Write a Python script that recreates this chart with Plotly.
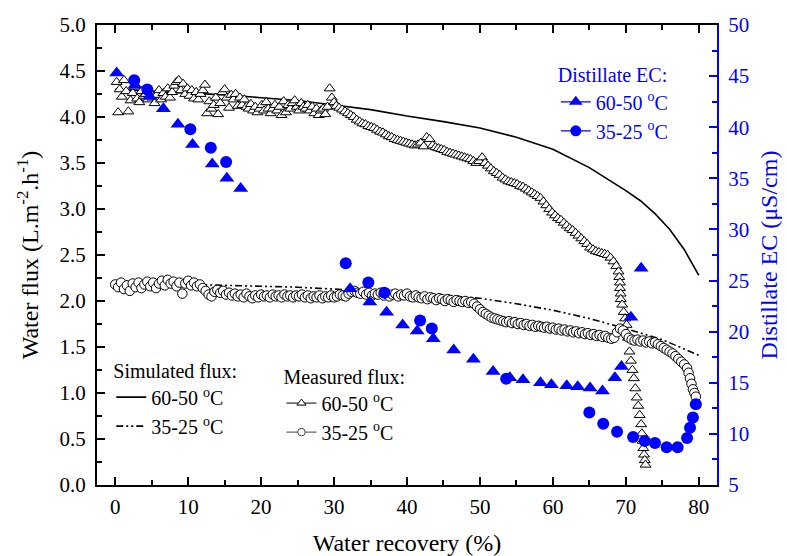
import plotly.graph_objects as go

# ---------------- data ----------------
# Simulated flux (L m-2 h-1)
sim_x = [0, 5, 10, 15, 20, 25, 30, 35, 40, 45, 50, 55, 60, 65, 70, 72, 74, 76, 78, 80]
sim_6050 = [4.30, 4.28, 4.26, 4.24, 4.21, 4.18, 4.13, 4.08, 4.01, 3.95, 3.88, 3.78, 3.65, 3.45, 3.20, 3.09, 2.95, 2.78, 2.56, 2.28]
simb_x = [0, 5, 10, 15, 20, 25, 30, 35, 40, 45, 50, 55, 60, 65, 70, 75, 80]
sim_3525 = [2.22, 2.20, 2.18, 2.17, 2.16, 2.15, 2.13, 2.11, 2.08, 2.06, 2.03, 1.97, 1.90, 1.81, 1.70, 1.58, 1.41]

# Measured flux 60-50 C
meas_6050_x = [0.2, 0.4, 0.6, 0.9, 1.2, 1.5, 1.8, 2.1, 2.4, 2.7, 3.0, 3.3, 3.6, 3.9, 4.2, 4.5, 4.8, 5.1, 5.4, 5.7,
               6.0, 6.3, 6.6, 6.9, 7.2, 7.5, 7.8, 8.1, 8.4, 8.7, 9.0, 9.3, 9.6, 9.9, 10.2, 10.5, 10.8, 11.1, 11.4, 11.7,
               12.0, 12.3, 12.6, 12.9, 13.2, 13.5, 13.8, 14.1, 14.4, 14.7, 15.0, 15.3, 15.6, 15.9, 16.2, 16.5, 16.8, 17.1, 17.4, 17.7,
               18.0, 18.3, 18.6, 18.9, 19.2, 19.5, 19.8, 20.1, 20.4, 20.7, 21.0, 21.3, 21.6, 21.9, 22.2, 22.5, 22.8, 23.1, 23.4, 23.7,
               24.0, 24.3, 24.6, 24.9, 25.2, 25.5, 25.8, 26.1, 26.4, 26.7, 27.0, 27.3, 27.6, 27.9, 28.2, 28.5, 28.8, 29.1, 29.4, 29.7,
               30.0, 30.3, 30.7, 31.1, 31.5, 31.9, 32.3, 32.7, 33.1, 33.5, 33.9, 34.3, 34.7, 35.1, 35.5, 35.9, 36.3, 36.7, 37.1, 37.5,
               37.9, 38.3, 38.7, 39.1, 39.5, 39.9, 40.3, 40.7, 41.1, 41.5, 41.9, 42.3, 42.7, 43.1, 43.5, 43.9, 44.3, 44.7, 45.1, 45.5,
               45.9, 46.3, 46.7, 47.1, 47.5, 47.9, 48.3, 48.7, 49.1, 49.5, 49.9, 50.3, 50.7, 51.1, 51.5, 51.9, 52.3, 52.7, 53.1, 53.5,
               53.9, 54.3, 54.7, 55.1, 55.5, 55.9, 56.3, 56.7, 57.1, 57.5, 57.9, 58.3, 58.7, 59.1, 59.5, 59.9, 60.3, 60.7, 61.1, 61.5,
               61.9, 62.3, 62.7, 63.1, 63.5, 63.9, 64.3, 64.7, 65.1, 65.5, 65.9, 66.3, 66.7, 67.1, 67.5, 67.9, 68.3, 68.7,
               69.0, 69.1, 69.2, 69.2, 69.3, 69.3, 69.5, 69.7, 69.9, 70.1, 70.3, 70.5, 70.7, 70.9, 71.1, 71.3, 71.5, 71.7, 71.9, 72.1,
               72.2, 72.3, 72.4, 72.5, 72.6, 72.7]
meas_6050_y = [4.38, 4.05, 4.30, 4.22, 4.40, 4.28, 4.06, 4.18, 4.26, 4.33, 4.20, 4.16, 4.28, 4.23, 4.25, 4.19, 4.27, 4.21, 4.15, 4.24,
               4.29, 4.19, 4.26, 4.22, 4.31, 4.21, 4.27, 4.34, 4.38, 4.40, 4.29, 4.36, 4.25, 4.31, 4.23, 4.29, 4.20, 4.27, 4.19, 4.25,
               4.29, 4.35, 4.04, 4.17, 4.09, 4.13, 4.21, 4.03, 4.15, 4.27, 4.30, 4.21, 4.10, 4.24, 4.19, 4.25, 4.12, 4.21, 4.13, 4.19,
               4.11, 4.09, 4.14, 4.07, 4.11, 4.05, 4.09, 4.13, 4.07, 4.16, 4.09, 4.04, 4.09, 4.13, 4.07, 4.11, 4.02, 4.17, 4.05, 4.13,
               4.09, 4.15, 4.18, 4.11, 4.07, 4.15, 4.11, 4.09, 4.13, 4.07, 4.11, 4.04, 4.09, 4.02, 4.07, 4.09, 4.03, 4.11, 4.31, 4.21,
               4.16, 4.12, 4.10, 4.08, 4.06, 4.04, 4.02, 4.00, 3.97, 3.95, 3.93, 3.92, 3.90, 3.89, 3.88, 3.86, 3.84, 3.83, 3.81, 3.79,
               3.78, 3.76, 3.75, 3.74, 3.73, 3.72, 3.71, 3.70, 3.69, 3.70, 3.72, 3.68, 3.78, 3.76, 3.69, 3.67, 3.66, 3.65, 3.64, 3.62,
               3.61, 3.60, 3.59, 3.58, 3.57, 3.56, 3.55, 3.54, 3.52, 3.50, 3.52, 3.56, 3.50, 3.47, 3.44, 3.41, 3.39, 3.37, 3.34, 3.32,
               3.30, 3.29, 3.28, 3.27, 3.25, 3.24, 3.22, 3.20, 3.18, 3.16, 3.14, 3.12, 3.08, 3.04, 3.00, 2.96, 2.93, 2.90, 2.88, 2.85,
               2.82, 2.79, 2.77, 2.74, 2.71, 2.68, 2.65, 2.62, 2.58, 2.56, 2.54, 2.53, 2.52, 2.51, 2.50, 2.47, 2.43, 2.38,
               2.32, 2.26, 2.20, 2.14, 2.08, 2.02, 1.96, 1.88, 1.81, 1.74, 1.60, 1.45, 1.35, 1.25, 1.16, 1.05, 0.95, 0.86, 0.76, 0.66,
               0.56, 0.48, 0.40, 0.33, 0.27, 0.22]

# Measured flux 35-25 C
meas_3525_x = [0.0, 0.4, 0.8, 1.2, 1.6, 2.0, 2.4, 2.8, 3.2, 3.6, 4.0, 4.4, 4.8, 5.2, 5.6, 6.0, 6.4, 6.8, 7.2, 7.6,
               8.0, 8.4, 8.8, 9.2, 9.6, 10.0, 10.4, 10.8, 11.2, 11.6, 12.0, 12.4, 12.8, 13.2, 13.6, 14.0, 14.4, 14.8, 15.2, 15.6,
               16.0, 16.4, 16.8, 17.2, 17.6, 18.0, 18.4, 18.8, 19.2, 19.6, 20.0, 20.4, 20.8, 21.2, 21.6, 22.0, 22.4, 22.8, 23.2, 23.6,
               24.0, 24.4, 24.8, 25.2, 25.6, 26.0, 26.4, 26.8, 27.2, 27.6, 28.0, 28.4, 28.8, 29.2, 29.6, 30.0, 30.4, 30.8, 31.2, 31.6,
               32.0, 32.4, 32.8, 33.2, 33.6, 34.0, 34.4, 34.8, 35.2, 35.6, 36.0, 36.4, 36.8, 37.2, 37.6, 38.0, 38.4, 38.8, 39.2, 39.6,
               40.0, 40.4, 40.8, 41.2, 41.6, 42.0, 42.4, 42.8, 43.2, 43.6, 44.0, 44.4, 44.8, 45.2, 45.6, 46.0, 46.4, 46.8, 47.2, 47.6,
               48.0, 48.4, 48.8, 49.2, 49.6, 50.0, 50.4, 50.8, 51.2, 51.6, 52.0, 52.4, 52.8, 53.2, 53.6, 54.0, 54.4, 54.8, 55.2, 55.6,
               56.0, 56.4, 56.8, 57.2, 57.6, 58.0, 58.4, 58.8, 59.2, 59.6, 60.0, 60.4, 60.8, 61.2, 61.6, 62.0, 62.4, 62.8, 63.2, 63.6,
               64.0, 64.4, 64.8, 65.2, 65.6, 66.0, 66.4, 66.8, 67.2, 67.6, 68.0, 68.4, 68.8, 69.2, 69.6, 70.0, 70.4, 70.8, 71.2, 71.6,
               72.0, 72.4, 72.8, 73.2, 73.6, 74.0, 74.4, 74.8, 75.2, 75.6, 76.0, 76.4, 76.8, 77.2, 77.6, 78.0, 78.4, 78.6, 78.8, 79.0,
               79.2, 79.4, 79.6]
meas_3525_y = [2.18, 2.15, 2.20, 2.13, 2.17, 2.11, 2.19, 2.15, 2.20, 2.14, 2.18, 2.21, 2.16, 2.20, 2.14, 2.19, 2.22, 2.17, 2.23, 2.19,
               2.21, 2.16, 2.20, 2.08, 2.19, 2.22, 2.17, 2.20, 2.16, 2.18, 2.14, 2.11, 2.07, 2.05, 2.10, 2.12, 2.09, 2.11, 2.07, 2.09,
               2.06, 2.08, 2.05, 2.07, 2.04, 2.08, 2.05, 2.03, 2.06, 2.04, 2.07, 2.05, 2.06, 2.04, 2.07, 2.05, 2.06, 2.04, 2.07, 2.05,
               2.06, 2.04, 2.06, 2.05, 2.07, 2.04, 2.06, 2.03, 2.05, 2.04, 2.06, 2.03, 2.05, 2.04, 2.06, 2.04, 2.05, 2.07, 2.06, 2.05,
               2.08, 2.10, 2.11, 2.09, 2.08, 2.10, 2.07, 2.09, 2.06, 2.08, 2.07, 2.09, 2.06, 2.08, 2.05, 2.07, 2.08, 2.05, 2.07, 2.06,
               2.08, 2.05, 2.04, 2.06, 2.04, 2.03, 2.05, 2.02, 2.04, 2.03, 2.01, 2.03, 2.02, 2.00, 2.02, 2.01, 1.99, 2.01, 2.00, 1.99,
               2.00, 1.98, 1.99, 1.97, 1.94, 1.91, 1.88, 1.86, 1.84, 1.82, 1.81, 1.80, 1.79, 1.78, 1.77, 1.78, 1.76, 1.77, 1.75, 1.76,
               1.74, 1.75, 1.73, 1.74, 1.72, 1.73, 1.72, 1.71, 1.72, 1.70, 1.71, 1.69, 1.70, 1.68, 1.69, 1.67, 1.68, 1.66, 1.67, 1.65,
               1.66, 1.64, 1.65, 1.63, 1.64, 1.62, 1.63, 1.61, 1.62, 1.60, 1.59, 1.60, 1.66, 1.70, 1.68, 1.64, 1.60, 1.58, 1.57, 1.58,
               1.56, 1.57, 1.55, 1.56, 1.54, 1.55, 1.53, 1.51, 1.49, 1.47, 1.45, 1.43, 1.40, 1.37, 1.34, 1.31, 1.27, 1.22, 1.16, 1.10,
               1.04, 1.00, 0.96]

# Distillate EC (uS/cm)
ec_6050_x = [0.2, 2.7, 4.7, 6.6, 8.6, 10.6, 13.3, 15.3, 17.2, 32.2, 34.9, 37.2, 39.4, 41.4, 43.6, 46.4, 49.1, 51.8, 54.1, 55.9,
             58.3, 59.8, 61.9, 63.4, 65.1, 66.8, 68.5, 69.4, 70.7, 72.1]
ec_6050_y = [45.3, 44.1, 43.0, 41.8, 40.3, 38.3, 36.4, 35.0, 34.0, 24.2, 22.9, 21.9, 20.65, 20.06, 19.3, 18.2, 17.3, 16.1, 15.5, 15.3,
             15.0, 14.8, 14.7, 14.6, 14.5, 14.2, 15.5, 16.6, 21.4, 26.2]
ec_3525_x = [2.6, 4.4, 10.3, 13.1, 15.2, 31.6, 34.7, 36.9, 41.8, 43.4, 53.6, 65.0, 66.9, 68.8, 71.0, 72.6, 74.0, 75.6, 77.1, 78.4,
             78.8, 79.2, 79.6]
ec_3525_y = [44.6, 43.7, 39.8, 38.0, 36.6, 26.7, 24.8, 23.8, 21.1, 20.3, 15.4, 12.1, 11.0, 10.2, 9.7, 9.3, 9.1, 8.7, 8.7, 9.6,
             10.6, 11.6, 12.9]

x_ticks = [0, 10, 20, 30, 40, 50, 60, 70, 80]
label_6050 = "60-50 <sup>o</sup>C"
label_3525 = "35-25 <sup>o</sup>C"

FONT = "Liberation Serif, Times New Roman, serif"
BLUE = "rgb(0,0,255)"

fig = go.Figure()

# simulated lines
fig.add_trace(go.Scatter(x=sim_x, y=sim_6050, mode="lines", line=dict(color="black", width=1.6),
                         name=label_6050, legend="legend"))
fig.add_trace(go.Scatter(x=simb_x, y=sim_3525, mode="lines",
                         line=dict(color="black", width=1.6, dash="7px,3px,2px,3px,2px,3px"),
                         name=label_3525, legend="legend"))

# measured flux
fig.add_trace(go.Scatter(x=meas_6050_x, y=meas_6050_y, mode="markers", showlegend=False,
                         marker=dict(symbol="triangle-up", size=9.5, color="white",
                                     line=dict(color="black", width=1))))
fig.add_trace(go.Scatter(x=meas_3525_x, y=meas_3525_y, mode="markers", showlegend=False,
                         marker=dict(symbol="circle", size=9.5, color="white",
                                     line=dict(color="black", width=1))))
# legend entries for measured flux
fig.add_trace(go.Scatter(x=[None], y=[None], mode="lines+markers", name=label_6050, legend="legend2",
                         line=dict(color="black", width=1),
                         marker=dict(symbol="triangle-up", size=8, color="white", line=dict(color="black", width=1))))
fig.add_trace(go.Scatter(x=[None], y=[None], mode="lines+markers", name=label_3525, legend="legend2",
                         line=dict(color="#666666", width=1.3),
                         marker=dict(symbol="circle", size=7.5, color="white", line=dict(color="#444444", width=1))))

# distillate EC
fig.add_trace(go.Scatter(x=ec_6050_x, y=ec_6050_y, yaxis="y2", mode="markers", showlegend=False,
                         marker=dict(symbol="triangle-up", size=13, color=BLUE, line=dict(width=0))))
fig.add_trace(go.Scatter(x=ec_3525_x, y=ec_3525_y, yaxis="y2", mode="markers", showlegend=False,
                         marker=dict(symbol="circle", size=12, color=BLUE, line=dict(width=0))))
fig.add_trace(go.Scatter(x=[None], y=[None], yaxis="y2", mode="lines+markers", name=label_6050, legend="legend3",
                         line=dict(color=BLUE, width=1.3),
                         marker=dict(symbol="triangle-up", size=12, color=BLUE)))
fig.add_trace(go.Scatter(x=[None], y=[None], yaxis="y2", mode="lines+markers", name=label_3525, legend="legend3",
                         line=dict(color=BLUE, width=1.3),
                         marker=dict(symbol="circle", size=11, color=BLUE)))

legend_common = dict(bgcolor="rgba(0,0,0,0)", borderwidth=0, xanchor="left", yanchor="top",
                     itemsizing="trace", tracegroupgap=0)

fig.update_layout(
    width=787, height=556,
    margin=dict(l=97, r=70, t=25, b=71, autoexpand=False),
    paper_bgcolor="white", plot_bgcolor="white",
    font=dict(family=FONT, size=21, color="black"),
    xaxis=dict(range=[-2.5, 82.5], tickvals=x_ticks, ticks="inside", ticklen=8, tickwidth=1.5,
               tickcolor="black", linecolor="black", linewidth=2, mirror="ticks", showgrid=False,
               zeroline=False, ticklabelstandoff=2, automargin=False,
               minor=dict(dtick=5, ticks="inside", ticklen=5, tickwidth=1.5, tickcolor="black", showgrid=False),
               title=dict(text="Water recovery (%)", font=dict(size=24), standoff=20)),
    yaxis=dict(range=[0, 5], dtick=0.5, tickformat=".1f", ticks="inside", ticklen=8, tickwidth=1.5,
               tickcolor="black", linecolor="black", linewidth=2, showgrid=False, zeroline=False,
               ticklabelstandoff=5, automargin=False,
               minor=dict(dtick=0.25, ticks="inside", ticklen=5, tickwidth=1.5, tickcolor="black", showgrid=False),
               title=dict(text="Water flux (L.m<sup>-2</sup>.h<sup>-1</sup>)", font=dict(size=24), standoff=14)),
    yaxis2=dict(range=[5, 50], dtick=5, overlaying="y", side="right", ticks="inside", ticklen=8,
                tickwidth=1.5, tickcolor=BLUE, linecolor=BLUE, linewidth=2, showgrid=False, zeroline=False,
                tickfont=dict(color=BLUE), ticklabelstandoff=5, automargin=False,
                minor=dict(dtick=2.5, ticks="inside", ticklen=5, tickwidth=1.5, tickcolor=BLUE, showgrid=False),
                title=dict(text="Distillate EC (μS/cm)", font=dict(size=24, color=BLUE), standoff=12)),
    legend=dict(x=0.023, y=0.29, title=dict(text="Simulated flux:", font=dict(size=20)),
                font=dict(size=20), **legend_common),
    legend2=dict(x=0.2975, y=0.277, title=dict(text="Measured flux:", font=dict(size=20)),
                 font=dict(size=20), **legend_common),
    legend3=dict(x=0.74, y=0.932, title=dict(text="Distillate EC:", font=dict(size=20, color=BLUE)),
                 font=dict(size=20, color=BLUE), **legend_common),
)

fig.write_html("out.html", config={"displayModeBar": False},
               post_script="document.body.style.margin='0px';")
